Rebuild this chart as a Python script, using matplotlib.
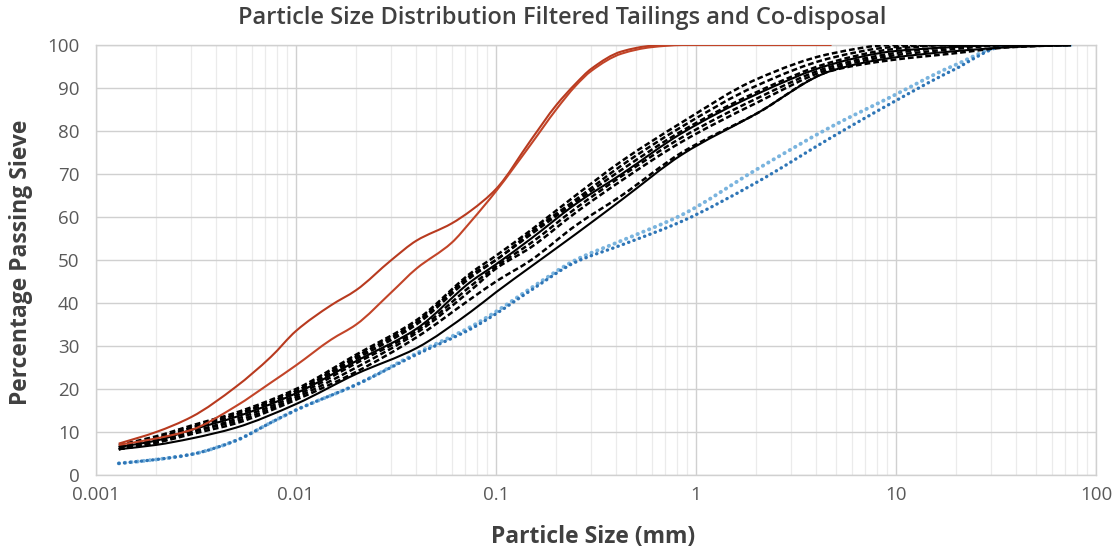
import numpy as np
import matplotlib
matplotlib.use('Agg')
import matplotlib.pyplot as plt
from matplotlib.path import Path
from matplotlib.patches import PathPatch
from matplotlib.ticker import LogLocator, FixedLocator, FixedFormatter, NullFormatter

plt.rcParams['font.family'] = ['Open Sans', 'DejaVu Sans']

# --- data (particle size in mm, % passing) ---
SIZE_RED = [0.0013, 0.002, 0.003, 0.005, 0.0075, 0.01, 0.015, 0.02, 0.03, 0.04,
            0.06, 0.075, 0.1, 0.15, 0.2, 0.25, 0.3, 0.425, 0.6, 0.85, 2, 4.75]
RED_1 = [7.3, 10, 13.5, 20.5, 27.5, 33.5, 39.5, 43, 50, 54.5,
         58.5, 61.5, 66.5, 78, 86, 91, 94.5, 98.5, 99.8, 100, 100, 100]
RED_2 = [7, 8.5, 10.5, 16, 21.5, 25.5, 31.5, 35, 42.5, 48,
         54, 59, 66, 77, 85, 90.5, 94, 98, 99.5, 100, 100, 100]

SIZE_BLACK = [0.0013, 0.002, 0.003, 0.005, 0.01, 0.02, 0.04, 0.075, 0.1, 0.15,
              0.25, 0.425, 0.85, 2, 4.75, 9.5, 19, 37.5, 75]
BLACK_DASHED = [
    [7, 9, 11.5, 14.5, 20, 28, 36, 47, 51, 57, 65, 73, 82, 92, 98, 100, 100, 100, 100],
    [6.5, 8.5, 11, 14, 19.5, 27, 35, 46, 50, 56, 63.5, 71, 80, 89, 96, 99, 100, 100, 100],
    [6, 8, 10, 13, 18.5, 26, 33.5, 44, 48.5, 54, 62, 69.5, 78.5, 87.5, 95, 98, 99.5, 100, 100],
    [6, 7.5, 10, 12.5, 18, 25, 33, 43, 48, 53, 61, 68.5, 77.5, 86.5, 94.5, 97.5, 99, 100, 100],
    [6, 7.5, 9.5, 12, 17.5, 24, 32, 41, 45, 50, 58, 65, 75, 84, 94, 96.5, 98, 99.5, 100],
    [6.5, 8.5, 11, 14, 19.5, 27.5, 35.5, 46.5, 50, 56.5, 64, 72, 81, 90.5, 97, 99.5, 100, 100, 100],
]
BLACK_SOLID = [
    [6.5, 8, 10.5, 13.5, 19, 26.5, 34, 45, 49, 55, 63, 70, 79.5, 88.5, 95.5, 98.5, 99.5, 100, 100],
    [6, 7, 8.5, 11, 16.5, 23.5, 29.5, 38, 42.5, 48.5, 56, 64, 74.5, 84, 94, 97, 98.5, 99.5, 100],
]

SIZE_BLUE = [0.0013, 0.002, 0.003, 0.005, 0.0075, 0.01, 0.02, 0.04, 0.075, 0.1,
             0.15, 0.25, 0.425, 0.85, 2, 4.75, 9.5, 19, 37.5, 75]
BLUE_1 = [2.7, 3.6, 4.8, 8, 12.2, 15.1, 21, 28.3, 34.5, 38,
          43.5, 50, 54.5, 60.5, 71, 81, 88, 95, 100, 100]
BLUE_2 = [2.7, 3.6, 4.8, 8, 12.2, 15.1, 21, 28, 34, 37.5,
          43, 49.5, 53.5, 59, 68, 78.5, 86.5, 94, 100, 100]

X_TICKS = [0.001, 0.01, 0.1, 1, 10, 100]
X_LABELS = ['0.001', '0.01', '0.1', '1', '10', '100']


def smooth_path(xs, ys):
    # smoothed line like Excel's: monotone cubic bezier in (log x, y)
    u = np.log10(xs)
    y = np.asarray(ys, dtype=float)
    n = len(u)
    h = np.diff(u)
    d = np.diff(y) / h
    m = np.zeros(n)
    m[0], m[-1] = d[0], d[-1]
    for i in range(1, n - 1):
        if d[i - 1] * d[i] > 0:
            w1 = 2 * h[i] + h[i - 1]
            w2 = h[i] + 2 * h[i - 1]
            m[i] = (w1 + w2) / (w1 / d[i - 1] + w2 / d[i])
    verts = [(u[0], y[0])]
    codes = [Path.MOVETO]
    for i in range(n - 1):
        verts.append((u[i] + h[i] / 3, y[i] + m[i] * h[i] / 3))
        verts.append((u[i + 1] - h[i] / 3, y[i + 1] - m[i + 1] * h[i] / 3))
        verts.append((u[i + 1], y[i + 1]))
        codes += [Path.CURVE4] * 3
    verts = np.array(verts)
    verts[:, 0] = 10 ** verts[:, 0]
    return Path(verts, codes)


def add_curve(ax, xs, ys, **kw):
    ax.add_patch(PathPatch(smooth_path(xs, ys), fill=False, **kw))


fig = plt.figure(figsize=(11.2, 5.53), dpi=100)
ax = fig.add_axes([96 / 1120, 1 - 475 / 553, 1000 / 1120, 430 / 553])

# blue, dotted
add_curve(ax, SIZE_BLUE, BLUE_1, edgecolor='#7AB4DE', linewidth=2.8,
          linestyle=(0, (0.1, 1.5)), capstyle='round', zorder=3)
add_curve(ax, SIZE_BLUE, BLUE_2, edgecolor='#2E75B6', linewidth=2.4,
          linestyle=(0, (0.1, 1.6)), capstyle='round', zorder=3)

# black
for ys in BLACK_DASHED:
    add_curve(ax, SIZE_BLACK, ys, edgecolor='black', linewidth=1.8,
              linestyle=(0, (2.3, 1.2)), zorder=4)
for ys in BLACK_SOLID:
    add_curve(ax, SIZE_BLACK, ys, edgecolor='black', linewidth=1.5, zorder=4)

# red
add_curve(ax, SIZE_RED, RED_1, edgecolor='#B83A1F', linewidth=1.5, zorder=5)
add_curve(ax, SIZE_RED, RED_2, edgecolor='#C24428', linewidth=1.5, zorder=5)

ax.set_xscale('log')
ax.set_xlim(0.001, 100)
ax.set_ylim(0, 100)
ax.xaxis.set_major_locator(FixedLocator(X_TICKS))
ax.xaxis.set_major_formatter(FixedFormatter(X_LABELS))
ax.xaxis.set_minor_locator(LogLocator(base=10, subs=range(2, 10), numticks=20))
ax.xaxis.set_minor_formatter(NullFormatter())
ax.set_yticks(range(0, 101, 10))

ax.grid(True, which='major', color='#d0d0d0', linewidth=1.0, zorder=0)
ax.grid(True, which='minor', axis='x', color='#ebebeb', linewidth=0.9, zorder=0)
ax.set_axisbelow(True)
for sp in ax.spines.values():
    sp.set_color('#d0d0d0')
    sp.set_linewidth(1.0)

ax.tick_params(which='both', length=0, labelsize=13.5, labelcolor='#595959')
ax.tick_params(axis='x', pad=8)
ax.tick_params(axis='y', pad=12)

fig.text(0.502, 1 - 18 / 553, 'Particle Size Distribution Filtered Tailings and Co-disposal',
         ha='center', va='center', fontsize=17, fontweight='semibold', color='#404040')
fig.text(593 / 1120, 1 - 537 / 553, 'Particle Size (mm)', ha='center', va='center',
         fontsize=16.5, fontweight='bold', color='#404040')
fig.text(21 / 1120, 1 - 262 / 553, 'Percentage Passing Sieve', ha='center', va='center',
         rotation=90, fontsize=16.5, fontweight='bold', color='#404040')

fig.savefig('out.png', dpi=100)
